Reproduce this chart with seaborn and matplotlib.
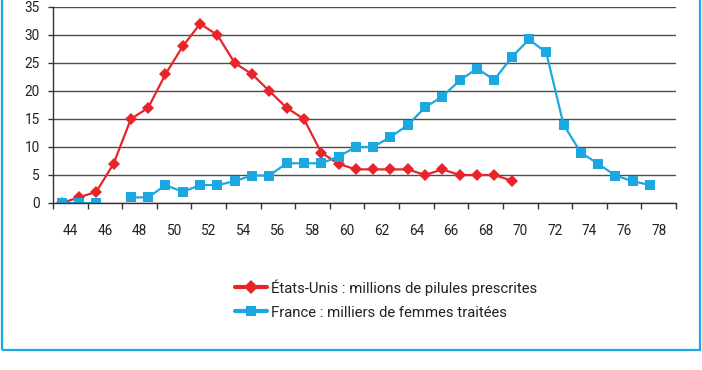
import matplotlib
matplotlib.use("Agg")
import matplotlib.pyplot as plt
import matplotlib.patches as mpatches
from matplotlib.lines import Line2D
import seaborn as sns
import pandas as pd
import numpy as np

# data
years = list(range(44, 80))
us_values = [0, 1, 2, 7, 15, 17, 23, 28, 32, 30, 25, 23, 20, 17, 15, 9, 7, 6, 6, 6,
             6, 5, 6, 5, 5, 5, 4]
fr_values = [0, 0, 0, None, 1, 1, 3.2, 2, 3.2, 3.2, 3.9, 4.9, 4.9, 7.1, 7.1, 7.1, 8.3,
             10, 10, 11.8, 13.9, 17.1, 19, 21.9, 24, 22, 26, 29.2, 26.9, 14, 9, 7,
             4.9, 3.9, 3.2]
x_labels = [str(y) for y in range(44, 80, 2)]
y_ticks = [0, 5, 10, 15, 20, 25, 30, 35]

us_label = "États-Unis : millions de pilules prescrites"
fr_label = "France : milliers de femmes traitées"
RED = "#E8232A"
BLUE = "#1BA8E0"

# long table; a segment id keeps the gap in the French series
rows = []
seg = 0
for y, v in zip(years, us_values):
    rows.append({"year": y, "value": v, "series": us_label, "seg": "us"})
for y, v in zip(years, fr_values):
    if v is None:
        seg += 1
        continue
    rows.append({"year": y, "value": v, "series": fr_label, "seg": f"fr{seg}"})
df = pd.DataFrame(rows)

sns.set_theme(style="white")
plt.rcParams["font.family"] = ["Roboto", "DejaVu Sans"]

fig = plt.figure(figsize=(7.02, 3.70), dpi=100)
ax = fig.add_axes([53 / 702, 1 - 203 / 370, 623 / 702, 196 / 370])

sns.lineplot(data=df, x="year", y="value", hue="series", style="series",
             units="seg", estimator=None, sort=True,
             palette={us_label: RED, fr_label: BLUE},
             markers={us_label: "D", fr_label: "s"}, dashes=False,
             linewidth=1.6, markeredgewidth=0, legend=False, ax=ax)
for line in ax.lines:
    if line.get_marker() == "D":
        line.set_markersize(6.2)
    else:
        line.set_markersize(7.6)

ax.set_xlim(43.5, 79.5)
ax.set_ylim(0, 35)
ax.set_yticks(y_ticks)
ax.yaxis.grid(True, color="#4d4d4d", linewidth=1.0)
ax.set_axisbelow(True)

# tick marks at category boundaries, labels between them
ax.set_xticks(np.arange(43.5, 80, 2))
ax.set_xticklabels([])
ax.set_xticks(np.arange(44.5, 80, 2), minor=True)
ax.set_xticklabels(x_labels, minor=True)
ax.tick_params(axis="x", which="major", length=4.5, width=1, color="#333333", bottom=True)
ax.tick_params(axis="x", which="minor", length=0, pad=15, labelsize=9.8, colors="#222222")
ax.tick_params(axis="y", length=3.6, width=1, color="#333333", left=True, pad=6,
               labelsize=9.8, labelcolor="#222222")

for side in ["top", "right"]:
    ax.spines[side].set_visible(False)
for side in ["left", "bottom"]:
    ax.spines[side].set_color("#333333")
    ax.spines[side].set_linewidth(1.0)
ax.set_xlabel("")
ax.set_ylabel("")

handles = [
    Line2D([], [], color=RED, linewidth=3, marker="D", markersize=7, markeredgewidth=0),
    Line2D([], [], color=BLUE, linewidth=3, marker="s", markersize=7.5, markeredgewidth=0),
]
fig.legend(handles, [us_label, fr_label], loc="upper left",
           bbox_to_anchor=(235 / 702, 1 - 279 / 370), frameon=False,
           fontsize=10.7, handlelength=2.15, handletextpad=0.25, labelspacing=0.68,
           borderpad=0, borderaxespad=0, labelcolor="#222222")

frame = mpatches.Rectangle((1.5 / 702, 1 - 350 / 370), 698.5 / 702, 30 / 370 + 1,
                           transform=fig.transFigure, fill=False, edgecolor=BLUE,
                           linewidth=1.6, clip_on=False)
fig.patches.append(frame)

fig.savefig("out.png", dpi=100)
